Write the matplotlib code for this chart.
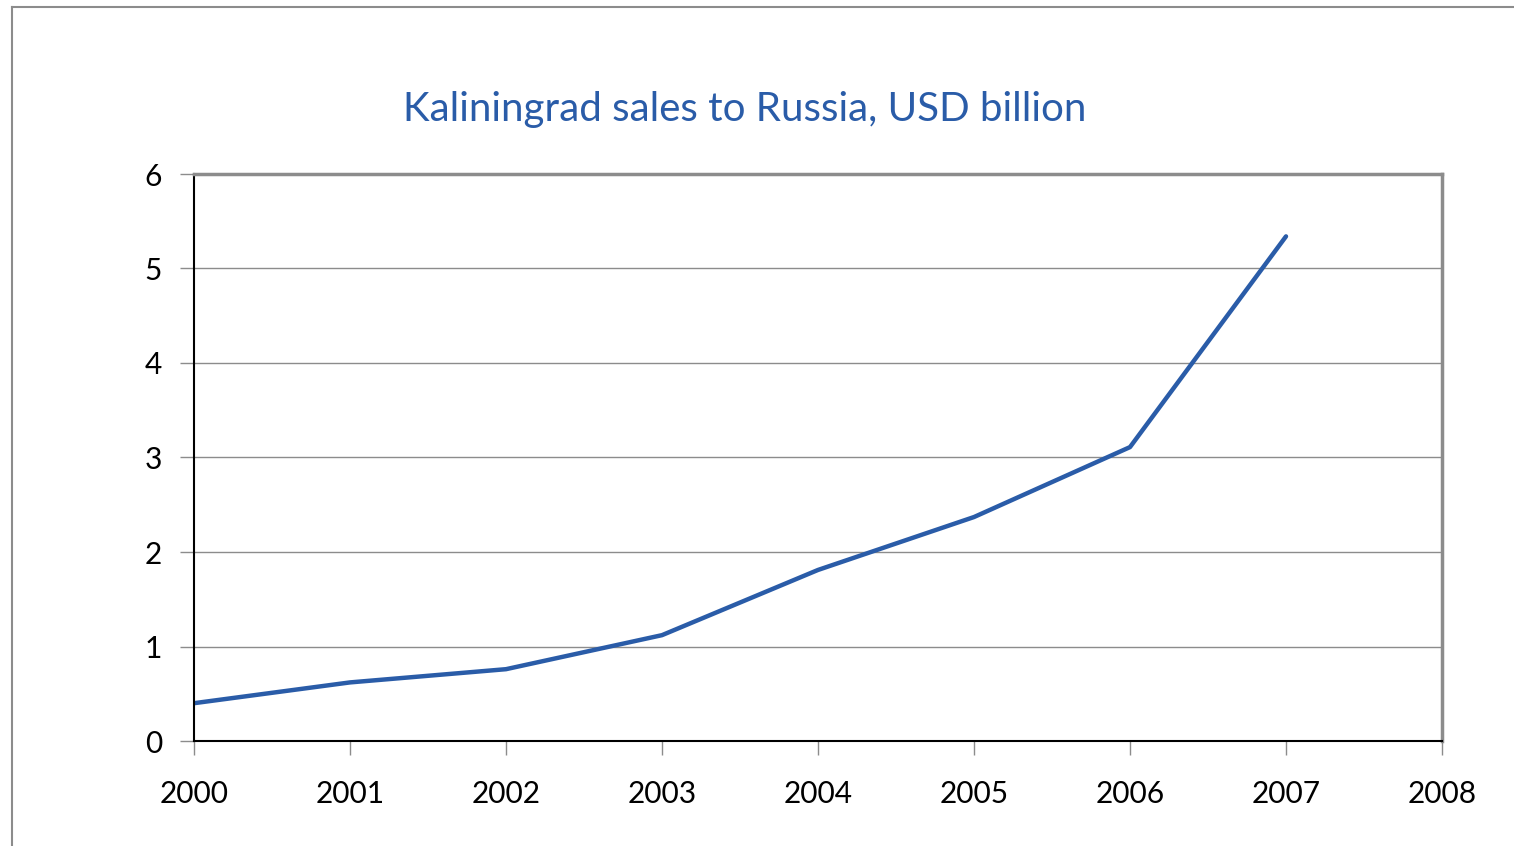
import matplotlib
matplotlib.use("Agg")
import matplotlib.pyplot as plt
from matplotlib.lines import Line2D

years = [2000, 2001, 2002, 2003, 2004, 2005, 2006, 2007]
sales = [0.40, 0.62, 0.76, 1.12, 1.81, 2.37, 3.11, 5.34]
x_ticks = [2000, 2001, 2002, 2003, 2004, 2005, 2006, 2007, 2008]
y_ticks = [0, 1, 2, 3, 4, 5, 6]
title = "Kaliningrad sales to Russia, USD billion"

W, H = 1514, 846
fig = plt.figure(figsize=(W / 100, H / 100), dpi=100)
fig.patch.set_facecolor("white")

# outer frame
fx = 11.5 / W
fy = 1 - 7.5 / H
fig.add_artist(Line2D([fx, 1], [fy, fy], transform=fig.transFigure, color="#8c8c8c", lw=1.5))
fig.add_artist(Line2D([fx, fx], [0, fy], transform=fig.transFigure, color="#8c8c8c", lw=1.5))

ax = fig.add_axes([194 / W, 1 - 741 / H, (1442 - 194) / W, (741 - 174) / H])
ax.plot(years, sales, color="#2a5ca8", lw=3.2, solid_capstyle="round")
ax.set_xlim(2000, 2008)
ax.set_ylim(0, 6)
ax.set_xticks(x_ticks)
ax.set_yticks(y_ticks)
ax.set_xticklabels([str(v) for v in x_ticks], fontsize=21.5, family="Lato")
ax.set_yticklabels([str(v) for v in y_ticks], fontsize=21.5, family="Lato")
ax.grid(axis="y", color="#8c8c8c", lw=1)
ax.set_axisbelow(True)
for s in ["top", "right"]:
    ax.spines[s].set_color("#8c8c8c")
    ax.spines[s].set_linewidth(2.5)
for s in ["left", "bottom"]:
    ax.spines[s].set_color("black")
    ax.spines[s].set_linewidth(1.5)
ax.tick_params(axis="both", color="#8c8c8c", length=10, width=1, labelcolor="black")
ax.tick_params(axis="y", pad=13)
ax.tick_params(axis="x", pad=18)

fig.text(745 / W, 1 - 110 / H, title, ha="center", va="center", fontsize=29,
         color="#2a5ca8", family="Lato")

fig.savefig("out.png", dpi=100, facecolor="white")
